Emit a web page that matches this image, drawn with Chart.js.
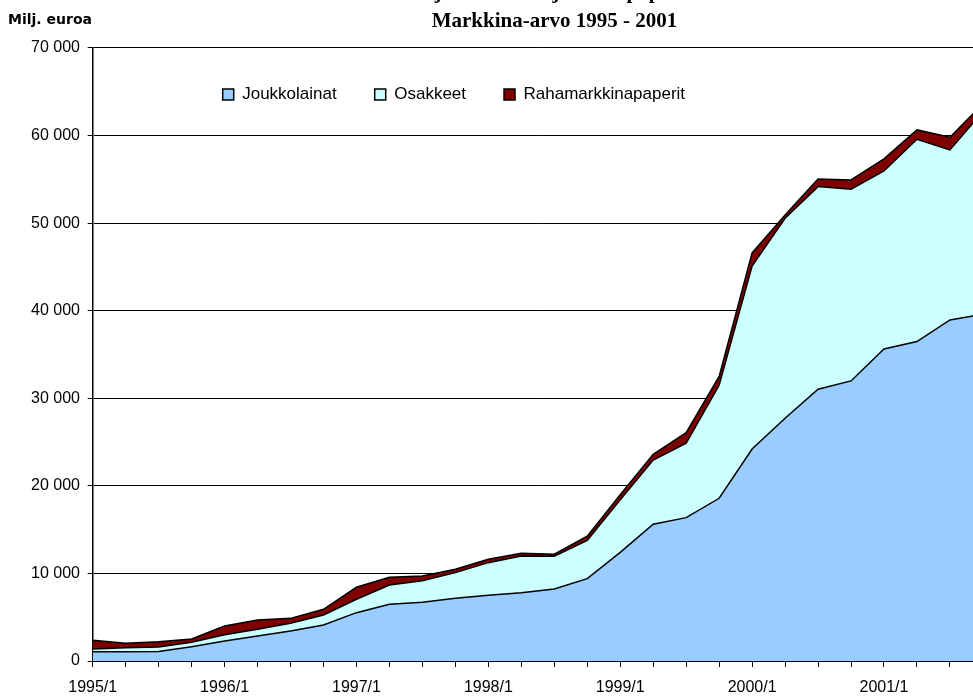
<!DOCTYPE html>
<html>
<head>
<meta charset="utf-8">
<script src="https://cdn.jsdelivr.net/npm/chart.js@4.4.1/dist/chart.umd.min.js"></script>
<style>
  html, body { margin: 0; padding: 0; background: #fff; overflow: hidden; }
  /* the original picture is cropped: top title line and right edge run off the page */
  #wrap { position: absolute; left: 0; top: -20px; width: 1101px; height: 718px; }
</style>
</head>
<body>
<div id="wrap"><canvas id="marketChart"></canvas></div>
<script>
const titleLines = ['Sijoitusrahastojen arvopaperit', 'Markkina-arvo 1995 - 2001']
const unitLabel = 'Milj. euroa'

const quarters = [
  '1995/1', '1995/2', '1995/3', '1995/4',
  '1996/1', '1996/2', '1996/3', '1996/4',
  '1997/1', '1997/2', '1997/3', '1997/4',
  '1998/1', '1998/2', '1998/3', '1998/4',
  '1999/1', '1999/2', '1999/3', '1999/4',
  '2000/1', '2000/2', '2000/3', '2000/4',
  '2001/1', '2001/2', '2001/3', '2001/4',
]

// million euro
const bonds = [1060, 1060, 1080, 1640, 2280, 2860, 3430, 4110, 5520, 6470, 6700, 7160, 7500, 7800,
  8220, 9400, 12400, 15610, 16370, 18580, 24200, 27720, 31030, 31980, 35630, 36470, 38940, 39590]
const shares = [310, 460, 520, 490, 720, 760, 870, 1140, 1530, 2210, 2450, 2930, 3730, 4200,
  3730, 4380, 6000, 7340, 8490, 12920, 20900, 22830, 23140, 21890, 20330, 23100, 19420, 23140]
const moneyMarket = [990, 500, 600, 380, 1000, 1060, 570, 650, 1370, 880, 550, 380, 380, 300,
  250, 480, 600, 650, 1220, 1000, 1500, 380, 870, 1060, 1370, 1070, 1450, 890]

const seriesNames = ['Joukkolainat', 'Osakkeet', 'Rahamarkkinapaperit']
const seriesColors = ['#99ccff', '#ccffff', '#800000']

const formatThousands = (v) => String(v).replace(/\B(?=(\d{3})+(?!\d))/g, ' ')

// Excel put the legend inside the plot area, so move it there after layout
const legendInPlot = {
  id: 'legendInPlot',
  afterLayout(chart) {
    chart.legend.top = chart.chartArea.top
    chart.legend.left = 184.7
  },
}

Chart.defaults.font.family = 'Liberation Sans'
Chart.defaults.color = '#000'

const ctx = document.getElementById('marketChart').getContext('2d')

new Chart(ctx, {
  type: 'line',
  data: {
    labels: quarters,
    datasets: [bonds, shares, moneyMarket].map((values, i) => ({
      label: seriesNames[i],
      data: values,
      backgroundColor: seriesColors[i],
      borderColor: '#000',
      borderWidth: 1.5,
      fill: i === 0 ? 'origin' : '-1',
      pointRadius: 0,
      tension: 0,
    })),
  },
  options: {
    responsive: true,
    maintainAspectRatio: false,
    animation: false,
    layout: { padding: { left: 8, right: 0, top: 0, bottom: 0 } },
    plugins: {
      tooltip: { enabled: false },
      title: {
        display: true,
        text: titleLines,
        color: '#000',
        font: { family: 'Liberation Serif', size: 21, weight: 'bold', lineHeight: 1.38 },
        padding: { top: -1.5, bottom: -26.9 },
      },
      subtitle: {
        display: true,
        text: unitLabel,
        align: 'start',
        color: '#000',
        font: { family: 'DejaVu Sans', size: 14, weight: 'bold', lineHeight: 1.2 },
        padding: { top: 2, bottom: 19.6 },
      },
      legend: {
        position: 'bottom',
        align: 'start',
        maxHeight: 1,
        labels: {
          boxWidth: 11,
          boxHeight: 11,
          padding: 38,
          color: '#000',
          font: { size: 17 },
        },
      },
    },
    scales: {
      x: {
        grid: {
          drawOnChartArea: false,
          color: '#000',
          tickLength: 6,
        },
        border: { color: '#000', width: 1.5 },
        ticks: {
          autoSkip: false,
          maxRotation: 0,
          minRotation: 0,
          padding: 11,
          font: { size: 16 },
          callback: (v, i) => (quarters[i].endsWith('/1') ? quarters[i] : ''),
        },
        afterFit: (s) => { s.height = 36 },
      },
      y: {
        stacked: true,
        min: 0,
        max: 70000,
        grid: { color: '#000', lineWidth: 1, tickLength: 5 },
        border: { color: '#000', width: 1.5 },
        ticks: {
          stepSize: 10000,
          padding: 7.7,
          font: { size: 16 },
          callback: (v) => formatThousands(v),
        },
        afterFit: (s) => { s.width = 84.7 },
      },
      // empty spacer so the title centres where the original did
      yRight: {
        position: 'right',
        display: true,
        grid: { display: false },
        border: { display: false },
        ticks: { display: false },
        afterFit: (s) => { s.width = 118.1 },
      },
    },
  },
  plugins: [legendInPlot],
})
</script>
</body>
</html>
